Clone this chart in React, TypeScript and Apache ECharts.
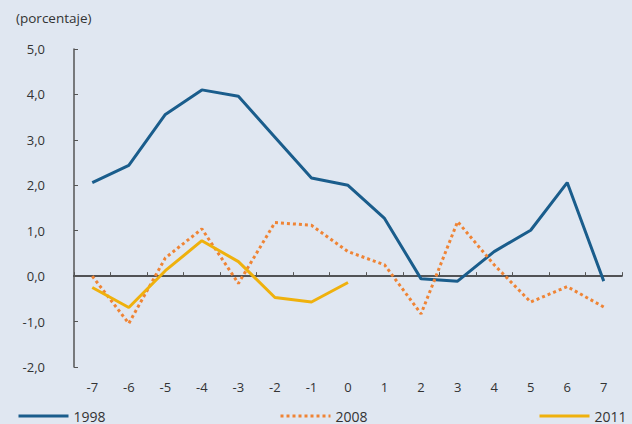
import React, { useEffect, useRef } from "react";
import * as echarts from "echarts";

const categories = ["-7", "-6", "-5", "-4", "-3", "-2", "-1", "0", "1", "2", "3", "4", "5", "6", "7"];
const s1998 = [2.06, 2.44, 3.56, 4.1, 3.96, 3.06, 2.16, 2.0, 1.27, -0.06, -0.11, 0.54, 1.01, 2.06, -0.11];
const s2008 = [0.0, -1.04, 0.4, 1.04, -0.16, 1.18, 1.12, 0.54, 0.25, -0.83, 1.2, 0.25, -0.57, -0.23, -0.68];
const s2011 = [-0.25, -0.69, 0.12, 0.78, 0.32, -0.47, -0.57, -0.14];
const yTicks = { min: -2, max: 5, interval: 1 };

const FONT = "'Open Sans', 'Liberation Sans', sans-serif";
const C1998 = "#1a5d8c";
const C2008 = "#ef8435";
const C2011 = "#efb10d";

export default function App() {
  const ref = useRef<HTMLDivElement>(null);
  useEffect(() => {
    if (!ref.current) return;
    const chart = echarts.init(ref.current, undefined, { renderer: "svg" });
    const legendBase = {
      itemWidth: 50,
      itemHeight: 10,
      itemGap: 8,
      top: 404,
      itemStyle: { opacity: 0, borderWidth: 0 },
      lineStyle: { width: 3 },
      textStyle: { fontFamily: FONT, fontSize: 14, color: "#333" },
    };
    chart.setOption({
      animation: false,
      backgroundColor: "#e0e7f1",
      title: {
        text: "(porcentaje)",
        left: 11,
        top: 6,
        textStyle: { fontFamily: FONT, fontSize: 13.5, fontWeight: "normal", color: "#333" },
      },
      legend: [
        { ...legendBase, left: 12, data: ["1998"] },
        { ...legendBase, left: 274, data: ["2008"], lineStyle: { width: 3, type: "dotted" } },
        { ...legendBase, left: 533, data: ["2011"] },
      ],
      grid: { left: 74, right: 10, top: 49, bottom: 57 },
      xAxis: [
        {
          type: "category",
          data: categories,
          boundaryGap: true,
          axisLine: { show: false, onZero: false },
          axisTick: { show: false },
          axisLabel: { fontFamily: FONT, fontSize: 13, color: "#333", margin: 13 },
        },
        {
          type: "category",
          data: categories,
          boundaryGap: true,
          position: "bottom",
          axisLine: { show: true, onZero: true, lineStyle: { color: "#222", width: 1.5 } },
          axisTick: { show: true, inside: true, length: 4, lineStyle: { color: "#555" } },
          axisLabel: { show: false },
        },
      ],
      yAxis: {
        type: "value",
        ...yTicks,
        axisLine: { show: true, lineStyle: { color: "#555", width: 1.5 } },
        axisTick: { show: true, inside: true, length: 4, lineStyle: { color: "#555" } },
        splitLine: { show: false },
        axisLabel: {
          fontFamily: FONT,
          fontSize: 13,
          color: "#333",
          margin: 29,
          formatter: (v: number) => v.toFixed(1).replace(".", ","),
        },
      },
      series: [
        {
          name: "1998",
          type: "line",
          data: s1998,
          symbol: "none",
          color: C1998,
          lineStyle: { color: C1998, width: 3 },
        },
        {
          name: "2008",
          type: "line",
          data: s2008,
          symbol: "none",
          color: C2008,
          lineStyle: { color: C2008, width: 3, type: "dotted" },
        },
        {
          name: "2011",
          type: "line",
          data: s2011,
          symbol: "none",
          color: C2011,
          lineStyle: { color: C2011, width: 3 },
        },
      ],
    });
    return () => chart.dispose();
  }, []);
  return <div ref={ref} style={{ width: 632, height: 424, position: "absolute", left: 0, top: 0 }} />;
}
